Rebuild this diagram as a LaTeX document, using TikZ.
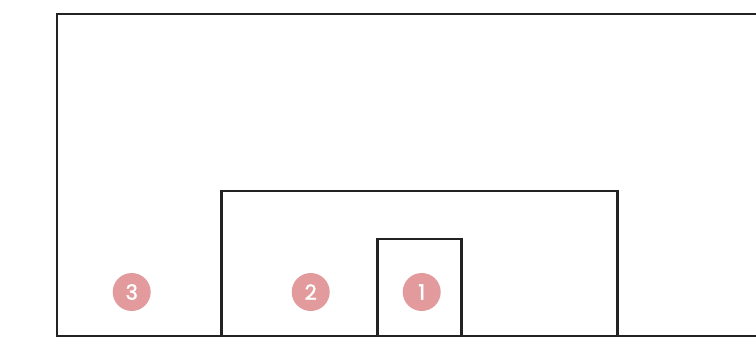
\documentclass[tikz,border=0pt]{standalone}
\usepackage{fontspec}
\setmainfont{Poppins}
\newfontfamily\badgefont[FakeBold=1.6]{Poppins}
\definecolor{linegray}{HTML}{222222}
\definecolor{badge}{HTML}{E29A9C}
\begin{document}
\begin{tikzpicture}[x=1pt,y=-1pt,
  frame/.style={draw=linegray,line width=2.8pt,line cap=rect},
  badgenode/.style={circle,fill=badge,text=white,minimum size=38pt,inner sep=0pt,font=\badgefont\fontsize{21}{21}\selectfont}]
\useasboundingbox (0,0) rectangle (756,338);
\begin{scope}
\clip (0,0) rectangle (756,338);
\draw[frame] (57,336) -- (57,14) -- (770,14);
\draw[frame] (221.7,336) -- (221.7,191) -- (617.7,191) -- (617.7,336);
\draw[frame] (377.7,336) -- (377.7,239) -- (461.7,239) -- (461.7,336);
\draw[frame] (57,336) -- (770,336);
\end{scope}
\node[badgenode] (b3) at (131.7,292) {3};
\node[badgenode] (b2) at (310.7,292) {2};
\node[badgenode] (b1) at (421.7,292) {1};
\end{tikzpicture}
\end{document}
